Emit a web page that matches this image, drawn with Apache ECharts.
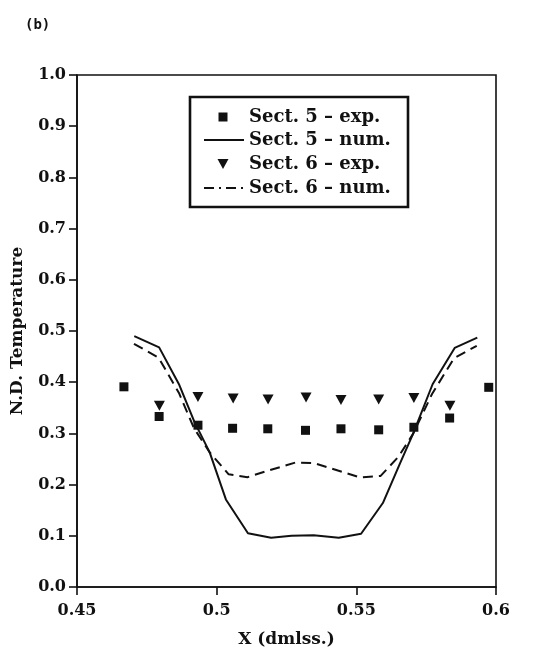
<!DOCTYPE html>
<html>
<head>
<meta charset="utf-8">
<script src="https://cdn.jsdelivr.net/npm/echarts@6/dist/echarts.min.js"></script>
<style>
html,body{margin:0;padding:0;background:#fff;}
#chart{width:548px;height:652px;}
</style>
</head>
<body>
<div id="chart"></div>
<script>
// Sect. 5 experimental (x, T)
const sect5ExpX = [0.4668, 0.4794, 0.4933, 0.5057, 0.5183, 0.5318, 0.5445, 0.558, 0.5706, 0.5834, 0.5974];
const sect5ExpY = [0.391, 0.333, 0.316, 0.310, 0.309, 0.306, 0.309, 0.307, 0.312, 0.330, 0.390];
// Sect. 6 experimental
const sect6ExpX = [0.4795, 0.4933, 0.5059, 0.5184, 0.532, 0.5445, 0.558, 0.5706, 0.5835];
const sect6ExpY = [0.354, 0.371, 0.368, 0.366, 0.370, 0.365, 0.366, 0.369, 0.354];
// Sect. 5 numerical
const sect5NumX = [0.4705, 0.4794, 0.4866, 0.492, 0.4975, 0.5033, 0.5112, 0.5195, 0.5268, 0.5347, 0.5437, 0.5517, 0.5595, 0.5656, 0.5703, 0.5773, 0.5852, 0.5933];
const sect5NumY = [0.490, 0.468, 0.395, 0.323, 0.263, 0.171, 0.105, 0.096, 0.100, 0.101, 0.096, 0.104, 0.164, 0.241, 0.299, 0.396, 0.467, 0.487];
// Sect. 6 numerical
const sect6NumX = [0.4704, 0.4792, 0.4865, 0.4919, 0.4975, 0.5043, 0.511, 0.5189, 0.5281, 0.5348, 0.5431, 0.5514, 0.5587, 0.5651, 0.5703, 0.5771, 0.585, 0.5931];
const sect6NumY = [0.475, 0.448, 0.379, 0.310, 0.263, 0.220, 0.2145, 0.228, 0.243, 0.242, 0.228, 0.214, 0.217, 0.2545, 0.299, 0.377, 0.447, 0.471];
// Axis ticks
const xTicks = [0.45, 0.5, 0.55, 0.6];
const yTicks = [0.0, 0.1, 0.2, 0.3, 0.4, 0.5, 0.6, 0.7, 0.8, 0.9, 1.0];
// Legend labels
const seriesNames = ['Sect. 5 \u2013 exp.', 'Sect. 5 \u2013 num.', 'Sect. 6 \u2013 exp.', 'Sect. 6 \u2013 num.'];

const pair = (xs, ys) => xs.map((x, i) => [x, ys[i]]);
const ink = '#111111';
const serif = '"DejaVu Serif", "Liberation Serif", serif';
const legendFont = 'bold 18px "DejaVu Serif", "Liberation Serif", serif';

// Legend drawn as graphic elements (box, icons, real text)
const LX = 190, LY = 97, LW = 218, LH = 110;
const rowY = [117, 140, 164, 188];
const legendGraphics = [
  { type: 'rect', shape: { x: LX, y: LY, width: LW, height: LH },
    style: { fill: '#fff', stroke: ink, lineWidth: 2.6 }, z: 100 },
  { type: 'rect', shape: { x: 218.5, y: rowY[0] - 4.5, width: 9, height: 9 }, style: { fill: ink }, z: 101 },
  { type: 'line', shape: { x1: 204, y1: rowY[1], x2: 244, y2: rowY[1] }, style: { stroke: ink, lineWidth: 2 }, z: 101 },
  { type: 'polygon', shape: { points: [[217.5, rowY[2] - 5], [228.5, rowY[2] - 5], [223, rowY[2] + 5]] }, style: { fill: ink }, z: 101 },
  { type: 'line', shape: { x1: 204, y1: rowY[3], x2: 246, y2: rowY[3] }, style: { stroke: ink, lineWidth: 2, lineDash: [10, 5, 2, 5] }, z: 101 }
];
seriesNames.forEach((n, i) => {
  legendGraphics.push({
    type: 'text', x: 249, y: rowY[i], z: 101,
    style: { text: n, font: legendFont, fill: ink, verticalAlign: 'middle', textAlign: 'left' }
  });
});

const chart = echarts.init(document.getElementById('chart'));
chart.setOption({
  backgroundColor: '#ffffff',
  animation: false,
  title: {
    text: '(b)', left: 20, top: 13,
    textStyle: { fontFamily: '"DejaVu Sans Mono", monospace', fontSize: 14, fontWeight: 'bold', color: ink }
  },
  grid: {
    left: 77, right: 52, top: 75, bottom: 65,
    containLabel: false, outerBoundsMode: 'none',
    show: true, borderColor: ink, borderWidth: 1.6, backgroundColor: 'transparent'
  },
  xAxis: {
    type: 'value', min: 0.45, max: 0.6, interval: 0.05,
    name: 'X (dmlss.)', nameLocation: 'middle', nameGap: 44,
    nameTextStyle: { fontFamily: serif, fontSize: 17, fontWeight: 'bold', color: ink },
    axisLine: { show: true, lineStyle: { color: ink, width: 1.6 } },
    axisTick: { show: true, inside: false, length: 8, lineStyle: { color: ink, width: 1.6 } },
    axisLabel: {
      fontFamily: serif, fontSize: 16, fontWeight: 'bold', color: ink, margin: 16,
      formatter: v => { const t = xTicks.find(t => Math.abs(t - v) < 1e-6); return t === undefined ? '' : String(t); }
    },
    splitLine: { show: false }
  },
  yAxis: {
    type: 'value', min: 0, max: 1, interval: 0.1,
    name: 'N.D. Temperature', nameLocation: 'middle', nameGap: 51, nameRotate: 90,
    nameTextStyle: { fontFamily: serif, fontSize: 17, fontWeight: 'bold', color: ink },
    axisLine: { show: true, lineStyle: { color: ink, width: 1.6 } },
    axisTick: { show: true, inside: false, length: 8, lineStyle: { color: ink, width: 1.6 } },
    axisLabel: {
      fontFamily: serif, fontSize: 16, fontWeight: 'bold', color: ink, margin: 11,
      formatter: v => { const t = yTicks.find(t => Math.abs(t - v) < 1e-6); return t === undefined ? '' : t.toFixed(1); }
    },
    splitLine: { show: false }
  },
  graphic: legendGraphics,
  series: [
    {
      name: seriesNames[0], type: 'scatter', data: pair(sect5ExpX, sect5ExpY),
      symbol: 'rect', symbolSize: 9, itemStyle: { color: ink, opacity: 1 }, z: 3
    },
    {
      name: seriesNames[1], type: 'line', data: pair(sect5NumX, sect5NumY),
      symbol: 'none', showSymbol: false, lineStyle: { color: ink, width: 2, type: 'solid' }, itemStyle: { color: ink }
    },
    {
      name: seriesNames[2], type: 'scatter', data: pair(sect6ExpX, sect6ExpY),
      symbol: 'triangle', symbolRotate: 180, symbolSize: [11, 10], itemStyle: { color: ink, opacity: 1 }, z: 3
    },
    {
      name: seriesNames[3], type: 'line', data: pair(sect6NumX, sect6NumY),
      symbol: 'none', showSymbol: false, lineStyle: { color: ink, width: 2, type: [10, 6] }, itemStyle: { color: ink }
    }
  ]
});
</script>
</body>
</html>
